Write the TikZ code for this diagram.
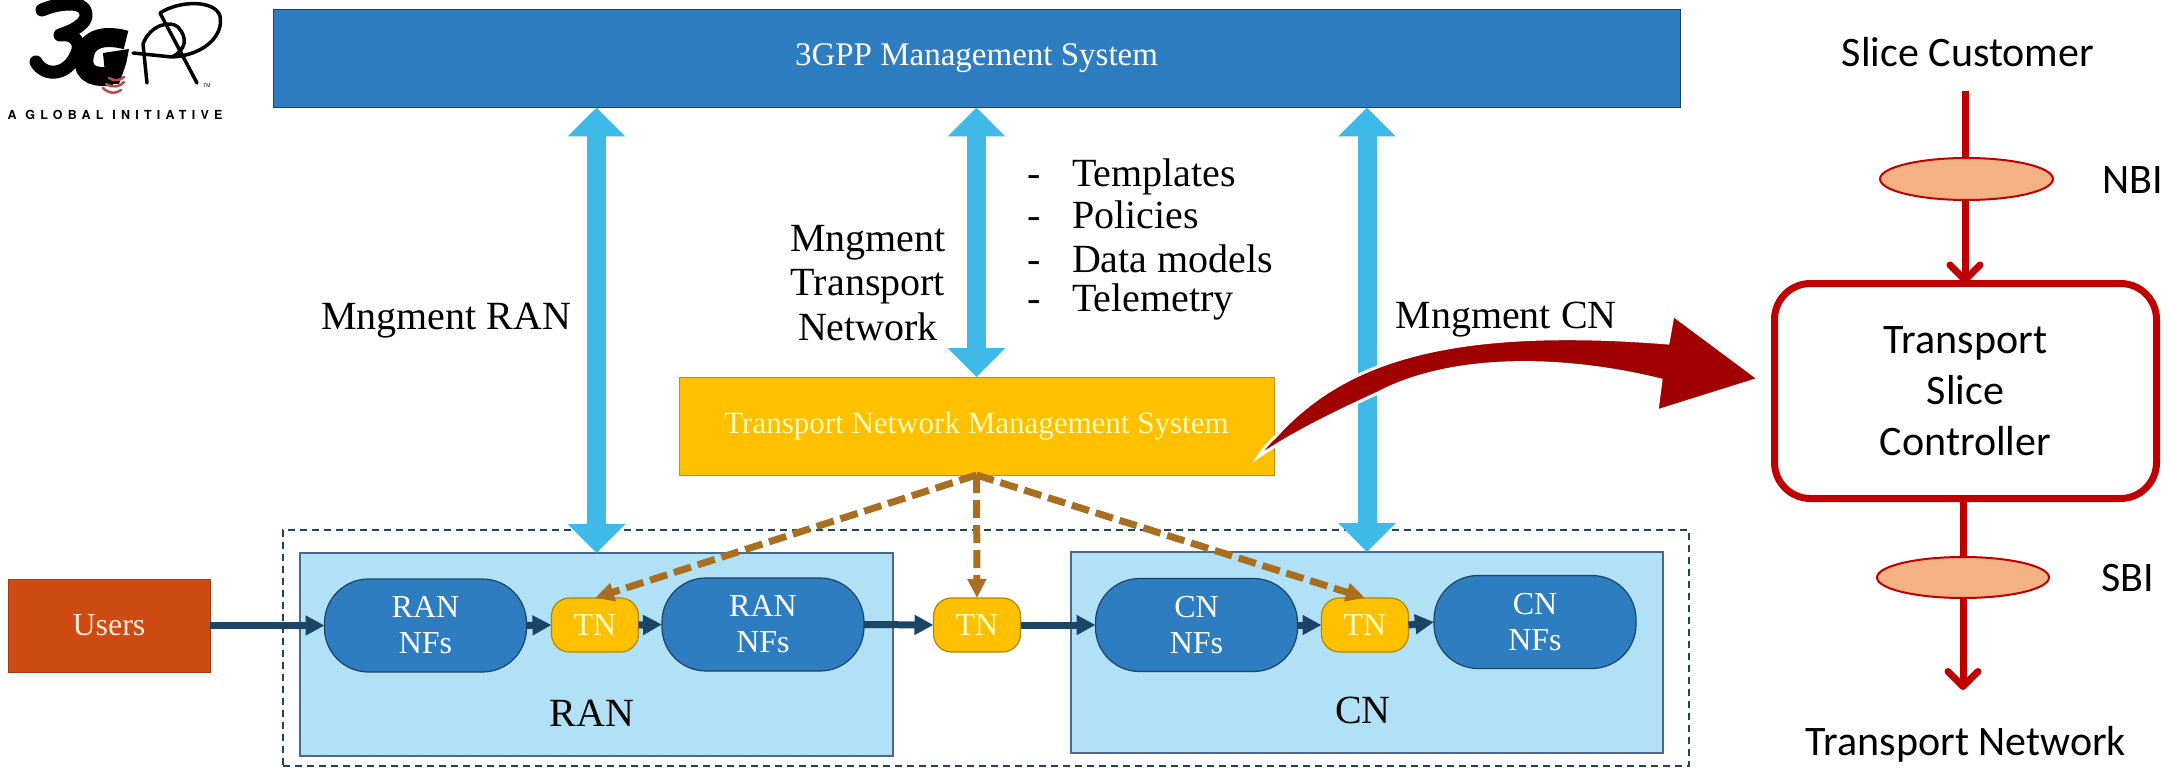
\documentclass[tikz,border=0pt]{standalone}
\usepackage{fontspec}
\setmainfont{Liberation Serif}
\newfontfamily\carl{Carlito}
\newfontfamily\heros[LetterSpace=42]{TeX Gyre Heros}
\newfontfamily\herostm{TeX Gyre Heros}
\usetikzlibrary{arrows.meta,shapes.geometric}
\definecolor{barblue}{HTML}{2F7DC1}
\definecolor{skyarrow}{HTML}{3FB9E8}
\definecolor{lightbox}{HTML}{B0E1F6}
\definecolor{navy}{HTML}{1C4466}
\definecolor{gold}{HTML}{FFC000}
\definecolor{brown}{HTML}{A96E1F}
\definecolor{darkred}{HTML}{A00000}
\definecolor{ctrl}{HTML}{C00000}
\definecolor{peach}{HTML}{F4B183}
\definecolor{rust}{HTML}{CD4B13}
\tikzset{
  base/.style={inner sep=0pt,outer sep=0pt,align=center,font=\fontsize{32}{36}\selectfont},
  bar/.style={base,draw=navy,line width=1pt,fill=barblue,text=white,font=\fontsize{33}{38}\selectfont},
  tms/.style={base,draw=gold!75!black,line width=1pt,fill=gold,text=yellow!25!white,font=\fontsize{31}{36}\selectfont},
  zone/.style={base,draw=navy!80,line width=1.5pt,fill=lightbox},
  nf/.style={base,draw=navy,line width=1.2pt,fill=barblue,text=white,minimum width=202pt,minimum height=93pt,rounded corners=44pt},
  tnbox/.style={base,draw=gold!70!black,line width=1.2pt,fill=gold,text=yellow!25!white,minimum width=87pt,minimum height=54pt,rounded corners=18pt},
  label/.style={inner sep=0pt,outer sep=0pt,align=center,font=\fontsize{40}{44.5}\selectfont},
  listitem/.style={inner sep=0pt,outer sep=0pt,anchor=base west,font=\fontsize{40}{44}\selectfont},
  sidetext/.style={inner sep=0pt,outer sep=0pt,align=center,font=\carl\fontsize{42}{51}\selectfont},
  flow/.style={line width=7pt,draw=navy,-{Triangle[length=19pt,width=19pt]}},
  mgmt/.style={line width=19pt,draw=skyarrow,{Triangle[length=29pt,width=56pt]}-{Triangle[length=29pt,width=56pt]}},
  ctlflow/.style={line width=7pt,draw=brown,dash pattern=on 18pt off 7pt,-{Triangle[length=19pt,width=18pt]}},
  redline/.style={line width=7pt,draw=ctrl},
  redarrow/.style={redline,-{Straight Barb[length=15pt,width=30pt,round]}},
  iface/.style={ellipse,draw=ctrl,line width=2pt,fill=peach,inner sep=0pt,outer sep=0pt},
}
\begin{document}
\begin{tikzpicture}[x=1pt,y=-1pt]
\useasboundingbox (0,0) rectangle (2172,773);
% logo
\draw[black,line width=13pt,line cap=round,line join=round]
  (42,10) .. controls (58,3) and (84,0) .. (86,13) .. controls (88,24) and (72,31) .. (60,35)
  .. controls (72,33) and (80,40) .. (78,50) .. controls (70,76) and (45,78) .. (36,62);
\draw[black,line width=19pt,line cap=butt]
  (126,40) .. controls (108,35) and (86,36) .. (84,58) .. controls (82,76) and (98,78) .. (112,76);
\fill[black] (103,53) -- (129,49) -- (126,64) -- (119,84) -- (106,84) -- cycle;
\draw[black,line width=3.5pt,line cap=round,line join=round]
  (143,44) -- (147,83)
  (160,13) -- (197,83)
  (133,53) -- (172,57) .. controls (205,55) and (224,35) .. (220,16) .. controls (215,0) and (180,0) .. (160,13)
  (143,44) .. controls (150,25) and (170,20) .. (178,27) .. controls (188,38) and (186,50) .. (172,57);
\draw[red!60!black!70!white,line width=2.5pt,line cap=round]
  (109,78) .. controls (114,81) and (120,81) .. (124,77)
  (106,84) .. controls (113,88) and (120,87) .. (124,82)
  (103,88) .. controls (109,94) and (116,94) .. (121,90);
\node[inner sep=0pt,font=\herostm\fontsize{5}{6}\selectfont] (tm) at (207,86) {TM};
\node[inner sep=0pt,font=\heros\bfseries\fontsize{12.5}{14}\selectfont] (glob) at (115,115) {A GLOBAL INITIATIVE};
% dashed outer frame
\node[draw=navy,line width=1.5pt,dash pattern=on 7pt off 5pt,inner sep=0pt,outer sep=0pt,minimum width=1406pt,minimum height=236pt] (frame) at (986,648) {};
% boxes
\node[bar,minimum width=1407pt,minimum height=98pt] (top) at (976.5,58.5) {3GPP Management System};
\node[tms,minimum width=595pt,minimum height=98pt] (tmsb) at (976.5,426) {Transport Network Management System};
\node[zone,minimum width=593pt,minimum height=203pt] (ranz) at (596.5,654.5) {};
\node[zone,minimum width=592pt,minimum height=201pt] (cnz) at (1367,652.5) {};
\node[base,draw=rust!80!black,line width=1pt,fill=rust,text=orange!15!white,minimum width=202pt,minimum height=93pt] (users) at (109,625.5) {Users};
\node[nf] (ran1) at (425.5,625.5) {RAN\\NFs};
\node[tnbox] (tn1) at (595,625) {TN};
\node[nf] (ran2) at (763,624.5) {RAN\\NFs};
\node[tnbox] (tn2) at (977,625) {TN};
\node[nf] (cn1) at (1196.5,625) {CN\\NFs};
\node[tnbox] (tn3) at (1365,625) {TN};
\node[nf] (cn2) at (1535,622) {CN\\NFs};
\node[label] (ranl) at (592,713) {RAN};
\node[label] (cnl) at (1363,710) {CN};
% texts
\node[label] (mran) at (446,321) {Mngment RAN};
\node[label] (mtn) at (868,283) {Mngment\\Transport\\Network};
\node[label] (mcn) at (1506,320) {Mngment CN};
\node[listitem] (l1) at (1072,186) {Templates};
\node[listitem] (l2) at (1072,228) {Policies};
\node[listitem] (l3) at (1072,272) {Data models};
\node[listitem] (l4) at (1072,311) {Telemetry};
\node[listitem] (d1) at (1027,186) {-};
\node[listitem] (d2) at (1027,228) {-};
\node[listitem] (d3) at (1027,272) {-};
\node[listitem] (d4) at (1027,311) {-};
% flows
\draw[flow] (users.east) -- (ran1.west);
\draw[flow] (ran1.east) -- (tn1.west);
\draw[flow] (tn1.east) -- (ran2.west);
\draw[flow] (ran2.east) -- (tn2.west);
\draw[flow] (tn2.east) -- (cn1.west);
\draw[flow] (cn1.east) -- (tn3.west);
\draw[flow] (tn3.east) -- (cn2.west);
% management arrows
\draw[mgmt] (top.south -| ranz.north) -- (ranz.north);
\draw[mgmt] (top.south -| tmsb.north) -- (tmsb.north);
\draw[mgmt] (top.south -| cnz.north) -- (cnz.north);
% control arrows
\draw[ctlflow] (tmsb.south) -- (tn1.north);
\draw[ctlflow] (tmsb.south) -- (tn2.north);
\draw[ctlflow] (tmsb.south) -- (tn3.north);
% right side
\node[base,draw=ctrl,line width=7pt,fill=white,minimum width=382pt,minimum height=215pt,rounded corners=36pt,text width=300pt,font=\carl\fontsize{42}{51}\selectfont] (ctl) at (1965.5,391) {Transport\\Slice\\Controller};
\node[iface,minimum width=173pt,minimum height=42pt] (nbi) at (1966.5,179) {};
\node[iface,minimum width=172pt,minimum height=41pt] (sbi) at (1963,577.5) {};
\node[sidetext] (cust) at (1968,52) {Slice Customer};
\node[sidetext] (tnet) at (1966,744) {Transport Network};
\node[sidetext] (nbit) at (2133,180) {NBI};
\node[sidetext] (sbit) at (2128,578) {SBI};
\coordinate (c1) at (1965,91);
\coordinate (c2) at (1963,690);
\draw[redline] (c1) -- (c1 |- nbi.north);
\draw[redarrow] (nbi.south -| c1) -- (ctl.north -| c1);
\draw[redline] (ctl.south -| c2) -- (sbi.north -| c2);
\draw[redarrow] (sbi.south -| c2) -- (c2);
% big arrow
\draw[draw=white,line width=3pt,fill=darkred,line join=miter]
  (1258,457) .. controls (1262,451) and (1268,443) .. (1275,437)
  .. controls (1340,365) and (1440,325) .. (1668,343)
  -- (1673,315) -- (1759,379) -- (1657,411) -- (1661,380)
  .. controls (1560,355) and (1450,355) .. (1378,393)
  .. controls (1330,415) and (1290,435) .. (1258,457) -- cycle;
\end{tikzpicture}
\end{document}
